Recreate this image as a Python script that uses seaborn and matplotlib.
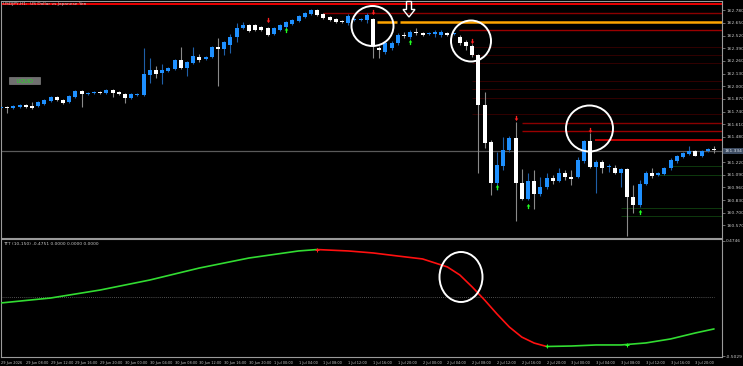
import numpy as np
import pandas as pd
import seaborn as sns
import matplotlib
matplotlib.use("Agg")
import matplotlib.pyplot as plt
from matplotlib.patches import Ellipse, Polygon, Rectangle
from matplotlib.path import Path

# ---------------- data ----------------
opens = [161.776,161.786,161.776,161.786,161.807,161.797,161.797,161.817,161.848,161.889,
         161.858,161.838,161.889,161.951,161.920,161.930,161.941,161.930,161.961,161.941,
         161.920,161.879,161.910,161.910,162.115,162.167,162.136,162.156,162.177,162.269,
         162.187,162.239,162.300,162.280,162.300,162.403,162.382,162.424,162.506,162.598,
         162.629,162.629,162.609,162.598,162.537,162.578,162.609,162.639,162.670,162.711,
         162.742,162.783,162.742,162.711,162.691,162.670,162.650,162.680,162.680,162.680,
         162.691,162.393,162.352,162.393,162.444,162.526,162.506,162.557,162.547,162.537,
         162.537,162.526,162.547,162.537,162.506,162.454,162.413,162.321,161.807,161.427,
         161.005,161.180,161.344,161.468,161.005,160.841,161.026,160.892,160.964,161.057,
         161.026,161.108,161.067,161.067,161.232,161.437,161.170,161.221,161.170,161.160,
         161.108,161.149,160.861,160.779,160.995,161.108,161.088,161.098,161.160,161.232,
         161.273,161.303,161.334,161.283,161.334,161.355]
highs = [161.797,161.797,161.807,161.817,161.817,161.838,161.848,161.869,161.900,161.900,
         161.869,161.910,161.961,161.961,161.941,161.951,161.951,161.971,161.971,161.951,
         161.930,161.930,161.930,162.393,162.290,162.208,162.228,162.197,162.280,162.403,
         162.259,162.403,162.331,162.311,162.413,162.496,162.465,162.537,162.650,162.660,
         162.639,162.639,162.619,162.609,162.609,162.639,162.670,162.691,162.732,162.763,
         162.794,162.794,162.752,162.722,162.701,162.680,162.742,162.701,162.701,162.752,
         162.701,162.413,162.465,162.465,162.547,162.557,162.578,162.598,162.557,162.557,
         162.578,162.578,162.557,162.547,162.526,162.475,162.434,162.331,161.941,161.447,
         161.324,161.478,161.488,161.632,161.149,161.108,161.139,161.067,161.108,161.088,
         161.160,161.139,161.139,161.273,161.447,161.519,161.242,161.242,161.201,161.190,
         161.160,161.160,160.985,161.036,161.129,161.160,161.118,161.170,161.262,161.293,
         161.324,161.386,161.344,161.344,161.365,161.386]
lows = [161.766,161.725,161.766,161.776,161.776,161.766,161.786,161.807,161.838,161.848,
        161.817,161.827,161.879,161.786,161.910,161.920,161.920,161.920,161.889,161.910,
        161.827,161.869,161.900,161.900,162.033,162.084,162.023,162.146,162.167,162.177,
        162.105,162.228,162.249,162.269,162.290,162.002,162.321,162.341,162.454,162.588,
        162.557,162.567,162.567,162.516,162.526,162.567,162.588,162.629,162.660,162.701,
        162.732,162.722,162.691,162.670,162.650,162.650,162.629,162.670,162.670,162.650,
        162.290,162.290,162.331,162.372,162.424,162.496,162.485,162.526,162.516,162.526,
        162.506,162.506,162.516,162.526,162.424,162.372,162.300,161.108,161.365,160.882,
        160.933,161.139,161.324,160.615,160.831,160.831,160.738,160.872,160.944,160.995,
        161.016,161.036,160.985,161.057,161.211,161.160,160.903,161.108,161.118,161.098,
        160.964,160.461,160.697,160.759,160.985,161.057,161.077,161.088,161.139,161.211,
        161.262,161.293,161.283,161.273,161.324,161.314]
closes = [161.786,161.776,161.797,161.807,161.786,161.776,161.838,161.858,161.889,161.858,
          161.827,161.900,161.951,161.920,161.930,161.941,161.930,161.961,161.930,161.920,
          161.879,161.920,161.920,162.126,162.167,162.126,162.167,162.187,162.269,162.187,
          162.249,162.311,162.269,162.300,162.403,162.382,162.454,162.506,162.598,162.629,
          162.567,162.578,162.578,162.526,162.598,162.629,162.660,162.680,162.722,162.752,
          162.783,162.732,162.701,162.680,162.660,162.660,162.722,162.691,162.691,162.732,
          162.424,162.372,162.444,162.444,162.526,162.516,162.557,162.547,162.526,162.547,
          162.557,162.557,162.526,162.537,162.444,162.413,162.321,161.807,161.417,161.005,
          161.190,161.344,161.468,161.005,160.841,161.026,160.892,160.964,161.057,161.026,
          161.108,161.067,161.046,161.242,161.437,161.170,161.221,161.160,161.170,161.108,
          161.149,160.861,160.779,160.995,161.108,161.077,161.108,161.160,161.242,161.283,
          161.314,161.334,161.283,161.334,161.355,161.344]

price_ticks = [162.780,162.650,162.520,162.390,162.260,162.130,162.000,161.870,161.740,
               161.610,161.480,161.220,161.090,160.960,160.830,160.700,160.570]
current_price = 161.334

time_labels = ["29 Jun 2026","29 Jun 08:00","29 Jun 12:00","29 Jun 16:00","29 Jun 20:00",
               "30 Jun 00:00","30 Jun 04:00","30 Jun 08:00","30 Jun 12:00","30 Jun 16:00",
               "30 Jun 20:00","1 Jul 00:00","1 Jul 04:00","1 Jul 08:00","1 Jul 12:00",
               "1 Jul 16:00","1 Jul 20:00","2 Jul 00:00","2 Jul 04:00","2 Jul 08:00",
               "2 Jul 12:00","2 Jul 16:00","2 Jul 20:00","3 Jul 00:00","3 Jul 04:00",
               "3 Jul 08:00","3 Jul 12:00","3 Jul 16:00","3 Jul 20:00"]

# horizontal levels: price, start bar, colour, width
level_price = [162.842,162.752,162.660,162.578,162.403,162.321,162.239,162.054,161.971,161.879,
               161.715,161.622,161.540,161.447,161.180,161.088,160.748,160.666]
level_start = [-1,52,60.6,73.8,76,76,76,76,76,76,76,84,84,95.8,108,106,100,100]
level_color = ["#ff0000","#8b0000","#ffa500","#9a0000","#3a0000","#3a0000","#3a0000","#3a0000",
               "#3a0000","#3a0000","#3a0000","#8a0000","#9a0000","#e00000","#0e3a0e","#0e3a0e",
               "#0e3a0e","#0e3a0e"]
level_width = [1.3,1.0,1.8,1.0,0.6,0.6,0.6,0.6,0.6,0.6,0.6,1.0,1.0,1.2,0.7,0.7,0.7,0.7]

sell_bars = [43, 60, 76, 83, 95]
sell_prices = [162.680, 162.763, 162.465, 161.673, 161.550]
buy_bars = [46, 66, 80, 85, 103]
buy_prices = [162.578, 162.454, 160.964, 160.769, 160.707]

ind_bars = [0,8,16,24,32,40,48,51,56,60,64,68,72,74,76,78,80,82,84,86,88,92,96,100,104,108,112,115]
ind_vals = [-0.052,-0.010,0.058,0.143,0.245,0.330,0.390,0.402,0.390,0.373,0.347,0.322,0.254,
            0.186,0.084,-0.027,-0.146,-0.257,-0.342,-0.393,-0.422,-0.418,-0.409,-0.409,-0.392,
            -0.358,-0.307,-0.273]
ind_peak_bar, ind_trough_bars = 51, [88, 101]
ind_top, ind_bot = 0.4746, -0.5029

# ---------------- figure ----------------
W, H = 743, 366
sns.set_theme(style="dark")
plt.rcParams["font.family"] = ["Liberation Sans Narrow", "DejaVu Sans"]
fig = plt.figure(figsize=(W / 100, H / 100), dpi=100, facecolor="black")

def fx(x): return x / W
def fy(y): return 1 - y / H

ax1 = fig.add_axes([fx(0.5), fy(238), (722 - 0.5) / W, (238 - 1) / H])
ax2 = fig.add_axes([fx(0.5), fy(357), (722 - 0.5) / W, (357 - 239) / H])
xl = (-0.08, 116.29)
GRAY = "#9a9a9a"
TXT = "#c8c8c8"
for ax in (ax1, ax2):
    ax.set_facecolor("black")
    ax.set_xlim(*xl)
    ax.grid(False)
    for s in ax.spines.values():
        s.set_color(GRAY)
        s.set_linewidth(0.8)
ax1.set_ylim(160.440, 162.876)
ax2.set_ylim(-0.5114, 0.4916)

n = len(opens)
bars = np.arange(n)
o = np.array(opens); c = np.array(closes); h = np.array(highs); l = np.array(lows)
bull = c >= o

# levels
for p, st, col, lw in zip(level_price, level_start, level_color, level_width):
    if col == "#ffa500":
        ax1.hlines(p, st, 63.9, color=col, lw=lw, zorder=1)
        ax1.hlines(p, 64.4, xl[1], color=col, lw=lw, zorder=1)
    else:
        ax1.hlines(p, st, xl[1], color=col, lw=lw, zorder=1)
ax1.axhline(current_price, color="#5a5a5a", lw=0.9, zorder=1)

# candles
wick_col = np.where(bull, "#1f5fa8", "#8a8a8a")
ax1.vlines(bars, l, h, colors=wick_col, lw=0.8, zorder=2)
body_lo = np.minimum(o, c)
body_h = np.maximum(np.abs(c - o), 0.008)
ax1.bar(bars, body_h, bottom=body_lo, width=0.66,
        color=np.where(bull, "#1e90ff", "#ffffff"), edgecolor="none", zorder=3)

# signal arrows
down = Path([(-0.25, 1), (0.25, 1), (0.25, 0), (0.7, 0), (0, -1), (-0.7, 0), (-0.25, 0), (-0.25, 1)],
            [1, 2, 2, 2, 2, 2, 2, 79])
up = Path([(-0.25, -1), (0.25, -1), (0.25, 0), (0.7, 0), (0, 1), (-0.7, 0), (-0.25, 0), (-0.25, -1)],
          [1, 2, 2, 2, 2, 2, 2, 79])
ax1.scatter(sell_bars, sell_prices, marker=down, s=14, color="#ff2020", linewidths=0, zorder=5)
ax1.scatter(buy_bars, buy_prices, marker=up, s=14, color="#20ff20", linewidths=0, zorder=5)

# price axis
ax1.yaxis.tick_right()
ax1.set_yticks(price_ticks)
ax1.set_yticklabels([f"{v:.3f}" for v in price_ticks], color=TXT, fontsize=3.2)
ax1.tick_params(axis="y", length=2, width=0.5, color=GRAY, pad=1)
ax1.set_xticks([])
ax1.text(1.003, current_price, f"{current_price:.3f}", transform=ax1.get_yaxis_transform(),
         fontsize=3.2, color="#dfe6ef", va="center", ha="left",
         bbox=dict(boxstyle="square,pad=0.2", fc="#3e4d63", ec="none"))

# indicator
ib = list(ind_bars); iv = list(ind_vals)
k1 = ib.index(ind_peak_bar); k2 = ib.index(88)
seg = pd.concat([
    pd.DataFrame({"bar": ib[:k1 + 1], "val": iv[:k1 + 1], "seg": "a"}),
    pd.DataFrame({"bar": ib[k1:k2 + 1], "val": iv[k1:k2 + 1], "seg": "b"}),
    pd.DataFrame({"bar": ib[k2:], "val": iv[k2:], "seg": "c"}),
])
sns.lineplot(data=seg, x="bar", y="val", hue="seg", units="seg", estimator=None, sort=False,
             palette={"a": "#32dc32", "b": "#ff1010", "c": "#32dc32"}, lw=1.2,
             legend=False, ax=ax2, zorder=3)
ax2.hlines(0, xl[0], 115, color="#6a6a6a", lw=0.6, linestyles=(0, (1, 1.5)), zorder=1)
ax2.scatter([ind_peak_bar], [0.402], marker="+", s=10, color="#ff2020", lw=0.7, zorder=4)
ax2.scatter(ind_trough_bars, [-0.422, -0.409], marker="+", s=10, color="#20ff20", lw=0.7, zorder=4)
ax2.set_xlabel(""); ax2.set_ylabel("")
ax2.yaxis.tick_right()
ax2.set_yticks([ind_top, ind_bot])
ax2.set_yticklabels([f"{ind_top:.4f}", f"{ind_bot:.4f}"], color=TXT, fontsize=3.2)
ax2.tick_params(axis="y", length=2, width=0.5, color=GRAY, pad=1)
tb = list(range(0, 4 * len(time_labels), 4))
ax2.set_xticks(tb)
ax2.set_xticklabels(time_labels, color=TXT, fontsize=2.55, ha="left")
ax2.tick_params(axis="x", length=2, width=0.5, color=GRAY, pad=0.6)
ax2.text(0.004, 0.975, "TTT (10-150) -0.4751 0.0000 0.0000 0.0000", transform=ax2.transAxes,
         fontsize=3.2, color=TXT, va="top", ha="left")

# title & label
fig.text(fx(3), fy(4), "USDJPY,H1:  US Dollar vs Japanese Yen", fontsize=3.2, color=TXT,
         va="center", ha="left")
fig.patches.append(Rectangle((fx(9), fy(84)), 31 / W, 7 / H, transform=fig.transFigure,
                             fc="#707070", ec="#909090", lw=0.4))
fig.text(fx(24.5), fy(80.6), "LIQUID", fontsize=3.6, color="#22dd22", va="center", ha="center")

# annotation circles and arrow
for cx, cy, rx, ry in [(372.5, 26, 21, 20), (471, 41, 20, 20.5), (589.5, 128.5, 23.5, 23),
                       (461, 277, 21.5, 25)]:
    fig.patches.append(Ellipse((fx(cx), fy(cy)), 2 * rx / W, 2 * ry / H, transform=fig.transFigure,
                               fill=False, ec="white", lw=1.4, zorder=10))
arr = [(406.5, 1.5), (411.5, 1.5), (411.5, 9.5), (415, 9.5), (409, 17), (403, 9.5), (406.5, 9.5)]
fig.patches.append(Polygon([(fx(a), fy(b)) for a, b in arr], closed=True, transform=fig.transFigure,
                           fill=False, ec="white", lw=1.0, zorder=10))

fig.savefig("out.png", dpi=100, facecolor="black")
